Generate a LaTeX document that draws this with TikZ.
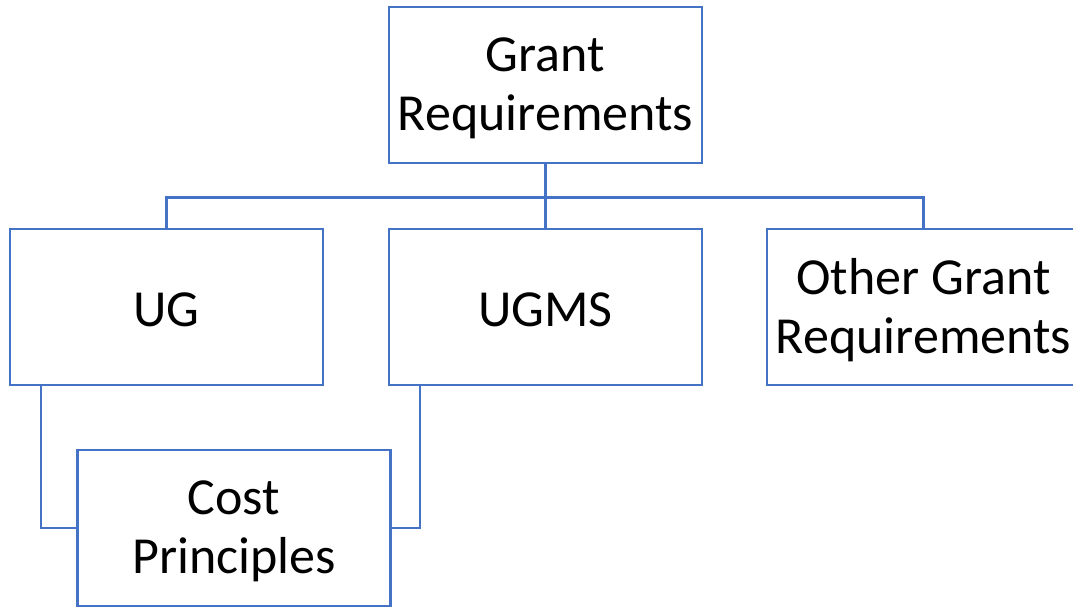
\documentclass[tikz,border=0pt]{standalone}
\usepackage{fontspec}
\setmainfont{Carlito}
\usetikzlibrary{calc}
\definecolor{boxblue}{RGB}{68,114,196}
\begin{document}
\begin{tikzpicture}[x=1pt,y=-1pt,
  box/.style={draw=boxblue, line width=2.5pt, fill=white,
    minimum width=313pt, minimum height=156pt, inner sep=0pt},
  link/.style={draw=boxblue, line width=2.5pt},
  lbl/.style={align=center, inner sep=0pt, font=\fontsize{52}{59}\selectfont}]
\useasboundingbox (0,0) rectangle (1073,607);
\clip (0,0) rectangle (1073,607);

% organisation chart boxes
\node[box] (grant) at (545.5,85) {};
\node[box] (ug)    at (166.5,307) {};
\node[box] (ugms)  at (545.5,307) {};
\node[box] (other) at (923.5,307) {};
\node[box] (cost)  at (234,528) {};

% box captions, set a little below centre
\node[lbl] (grant-t) at ($(grant)+(0,3)$) {Grant\\Requirements};
\node[lbl] (ug-t)    at ($(ug)+(0,3)$) {UG};
\node[lbl] (ugms-t)  at ($(ugms)+(0,3)$) {UGMS};
\node[lbl] (other-t) at ($(other)+(0,3)$) {Other Grant\\Requirements};
\node[lbl] (cost-t)  at ($(cost)+(0,3)$) {Cost\\Principles};

% bus from the top box to the three children
\coordinate (bus) at ($(grant.south)+(0,33)$);
\draw[link] (grant.south) -- (bus);
\draw[link] (ug.north) |- (bus) -| (other.north);
\draw[link] (bus) -- (ugms.north);

% both UG and UGMS feed the cost principles
\draw[link] ([xshift=32pt]ug.south west) |- (cost.west);
\draw[link] ([xshift=32pt]ugms.south west) |- (cost.east);
\end{tikzpicture}
\end{document}
